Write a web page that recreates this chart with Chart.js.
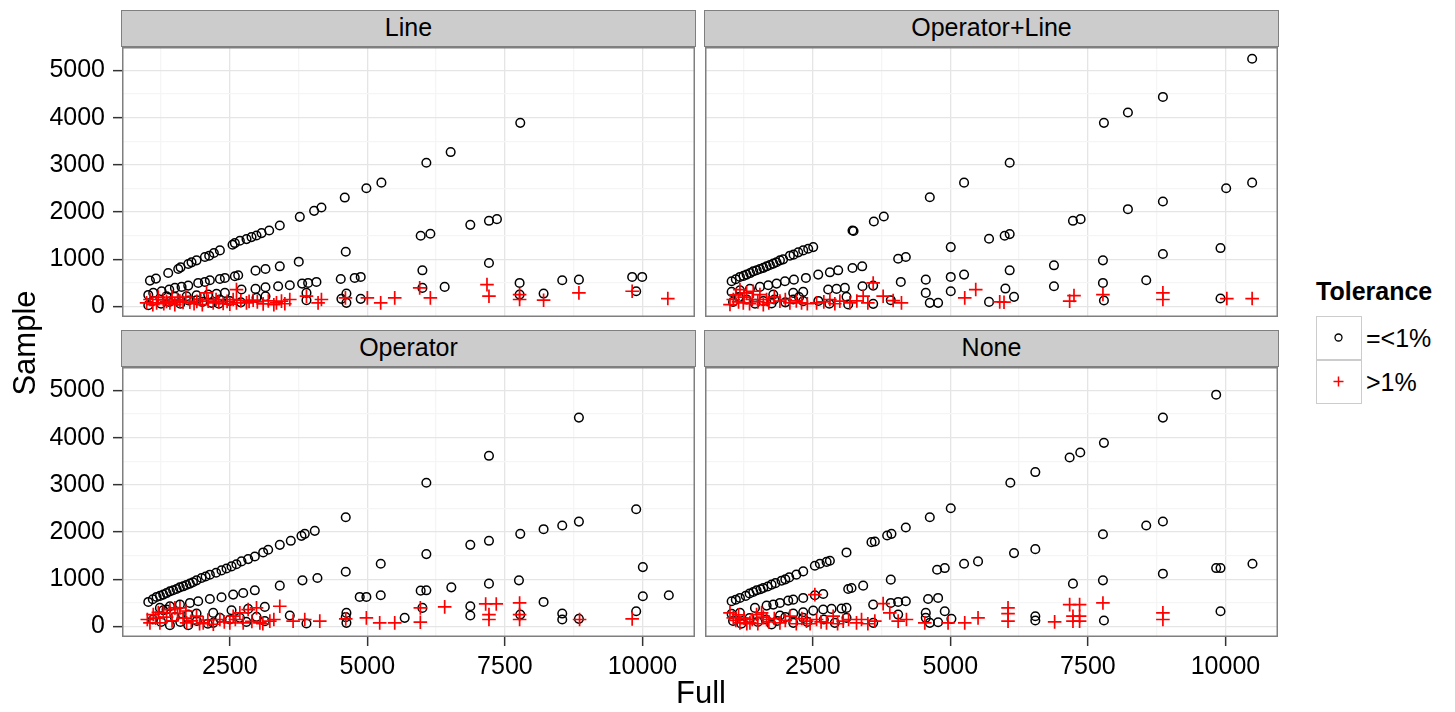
<!DOCTYPE html>
<html>
<head>
<meta charset="utf-8">
<script src="https://cdn.jsdelivr.net/npm/chart.js@4.4.1/dist/chart.umd.min.js"></script>
<style>
  body { margin: 0; background: #fff; font-family: "Liberation Sans", Arial, sans-serif; }
  #wrap { position: relative; width: 1455px; height: 712px; overflow: hidden; }
  .panel { position: absolute; }
  .strip { position: absolute; box-sizing: border-box; background: #cccccc; border: 1.5px solid #7f7f7f;
           font-size: 25px; line-height: 33px; text-align: center; color: #000; }
  .lbl { position: absolute; color: #000; white-space: nowrap; }
  .key { position: absolute; box-sizing: border-box; width: 46px; height: 44px; border: 1.5px solid #cccccc; background: #fff; }
</style>
</head>
<body>
<div id="wrap">
  <div class="strip" style="left:121px;top:10px;width:575px;height:37px">Line</div>
  <div class="strip" style="left:704px;top:10px;width:575px;height:37px">Operator+Line</div>
  <div class="strip" style="left:121px;top:330px;width:575px;height:37px">Operator</div>
  <div class="strip" style="left:704px;top:330px;width:575px;height:37px">None</div>

  <div class="panel" style="left:0;top:47px"><canvas id="pLine" width="695" height="270"></canvas></div>
  <div class="panel" style="left:705px;top:47px"><canvas id="pOpLine" width="573" height="270"></canvas></div>
  <div class="panel" style="left:0;top:367px"><canvas id="pOp" width="695" height="320"></canvas></div>
  <div class="panel" style="left:705px;top:367px"><canvas id="pNone" width="573" height="320"></canvas></div>

  <div class="lbl" style="left:676px;top:675px;font-size:31px">Full</div>
  <div class="lbl" style="left:-30px;top:325px;font-size:31px;transform:rotate(-90deg);width:110px;text-align:center">Sample</div>

  <div class="lbl" style="left:1316px;top:277px;font-size:25px;font-weight:bold">Tolerance</div>
  <div class="key" style="left:1316px;top:316px">
    <svg width="43" height="41"><circle cx="21.5" cy="20.5" r="3.5" fill="none" stroke="#000" stroke-width="1.3"/></svg>
  </div>
  <div class="key" style="left:1316px;top:360px">
    <svg width="43" height="41"><path d="M16.5 20.5 H26.5 M21.5 15.5 V25.5" stroke="#ff0000" stroke-width="1.5"/></svg>
  </div>
  <div class="lbl" style="left:1366px;top:324px;font-size:25px">=&lt;1%</div>
  <div class="lbl" style="left:1366px;top:368px;font-size:25px">&gt;1%</div>
</div>

<script>
'use strict'

//축 범위
const X_MIN = 540, X_MAX = 10955;
const Y_MIN = -220, Y_MAX = 5495;
//눈금 (주 눈금 + 보조 눈금)
const xTicks = [1250, 2500, 3750, 5000, 6250, 7500, 8750, 10000];
const yTicks = [0, 500, 1000, 1500, 2000, 2500, 3000, 3500, 4000, 4500, 5000];
const legendLabels = ['=<1%', '>1%'];

//Line 패널
const lineOk = [
  [1048,550],[1157,593],[1380,712],[1562,796],[1605,831],[1744,902],[1804,937],[1895,979],[2047,1050],[2125,1078],
  [2210,1134],[2319,1190],[2549,1310],[2591,1345],[2682,1394],[2803,1429],[2894,1471],[2985,1506],[3077,1556],[3215,1612],
  [3408,1717],[3772,1900],[4032,2027],[4165,2097],[4589,2308],[4982,2505],[5255,2624],[6072,3046],[6514,3271],[7779,3890],
  [1018,247],[1108,290],[1260,325],[1399,361],[1502,396],[1623,417],[1744,445],[1925,501],[2047,522],[2137,557],
  [2319,585],[2410,607],[2591,642],[2652,663],[2967,761],[3148,796],[3408,853],[3753,951],[4607,1162],[5969,1499],
  [6145,1542],[6871,1731],[7210,1816],[7355,1851],
  [1350,220],[1502,206],[1714,220],[1895,241],[2107,255],[2258,269],[2410,290],[2712,361],[2967,375],[3148,410],
  [3378,431],[3590,452],[3814,487],[3923,501],[4074,522],[4516,585],[4770,607],[4879,628],[6000,768],[7210,923],
  [8542,557],[8845,571],[9813,628],[9995,628],
  [1018,30],[1895,136],[2319,150],[2168,79],[3148,220],[2985,185],[3893,136],[3893,290],[4528,164],[4619,276],
  [4619,79],[4879,164],[6000,396],[6405,417],[7767,501],[7767,255],[8203,276],[9886,325],
  [1100,120],[1250,60],[1400,100],[1600,60],[1750,130],[2000,100],[2300,60],[2500,120],[2700,90]
];
const lineBad = [
  [987,79],[1169,79],[1290,150],[1411,79],[1593,115],[1774,93],[1956,150],[2077,290],[2107,115],[2198,79],
  [2379,65],[2561,150],[2621,79],[2621,361],[2803,79],[2924,136],[3106,58],[3348,79],[3439,115],[3590,150],
  [3893,220],[4104,79],[4165,150],[4601,185],[5000,185],[5242,79],[5497,185],[5951,396],[6145,185],[7174,466],
  [7210,220],[7767,150],[7767,255],[8203,136],[8845,290],[9813,325],[10461,171],
  [1050,150],[1100,40],[1200,200],[1300,60],[1350,110],[1450,200],[1500,40],[1550,150],[1650,90],[1700,200],
  [1850,60],[1900,110],[2000,40],[2250,150],[2300,100],[2450,110],[2500,50],[2700,130],[2850,110],[3000,100],
  [3200,120],[3300,40],[3500,60]
];

//Operator+Line 패널
const opLineOk = [
  [1024,536],[1175,628],[1296,677],[1417,747],[1538,796],[1660,853],[1781,909],[1902,979],[2083,1078],[2235,1148],
  [2325,1190],[2416,1225],[2507,1260],[3221,1612],[3240,1600],[3609,1802],[3790,1907],[4626,2315],[5249,2624],[6078,3046],
  [7791,3890],[8227,4108],[8863,4438],[10485,5246],
  [1100,580],[1240,650],[1360,710],[1480,770],[1600,820],[1720,880],[1840,940],[1960,1000],[2150,1100],
  [1024,311],[1175,346],[1357,375],[1538,417],[1690,452],[1841,487],[1993,536],[2156,571],[2374,607],[2598,677],
  [2810,726],[2961,768],[3221,817],[3397,853],[4051,1014],[4190,1049],[5007,1260],[5703,1436],[5987,1499],[6078,1535],
  [7228,1816],[7367,1851],[8227,2062],[8863,2224],[10013,2505],[10485,2624],
  [1781,255],[2144,290],[2325,311],[2779,361],[2931,375],[3082,396],[3403,431],[3597,445],[4099,522],[4553,571],
  [5007,628],[5249,677],[6078,768],[6883,874],[7773,979],[8863,1113],[9910,1239],
  [1750,65],[2144,150],[2325,115],[3112,206],[3143,44],[3597,58],[3917,136],[4553,290],[4626,79],[4777,79],
  [5007,325],[5703,100],[6000,382],[6157,206],[6883,431],[7773,501],[7791,129],[8560,557],[9910,171],
  [1050,100],[1150,200],[1300,150],[1450,60],[1600,120],[1800,150],[2000,90],[2250,200],[2600,120],[2800,60]
];
const opLineBad = [
  [994,44],[1054,150],[1175,361],[1236,79],[1296,290],[1417,325],[1538,255],[1660,150],[1902,115],[2083,79],
  [2295,79],[2568,79],[2810,150],[2991,115],[3173,79],[3415,220],[3597,501],[3778,220],[3960,128],[4111,79],
  [5261,185],[5461,361],[5897,100],[5975,93],[7168,115],[7247,234],[7773,255],[8863,290],[8863,150],[10025,171],
  [10485,171],
  [1100,250],[1150,100],[1250,200],[1350,60],[1400,150],[1500,100],[1600,40],[1700,80],[1800,200],[2000,150],
  [2200,120],[2400,60],[2700,100],[2900,60],[3300,120],[3500,80]
];

//Operator 패널
const opOk = [
  [1018,522],[1169,628],[1290,677],[1411,747],[1532,796],[1653,853],[1774,909],[1895,979],[1986,1028],[2137,1099],
  [2349,1190],[2531,1274],[2712,1380],[2833,1429],[2954,1485],[3106,1570],[3197,1626],[3408,1731],[3608,1816],[3802,1921],
  [3862,1963],[4044,2027],[4607,2315],[6072,3046],[7210,3615],[8845,4424],
  [1100,580],[1230,650],[1350,710],[1470,770],[1590,830],[1710,880],[1830,940],[2060,1060],[2250,1140],[2440,1230],[2620,1320],
  [1229,396],[1411,431],[1593,466],[1774,501],[1925,536],[2137,585],[2349,621],[2561,677],[2743,712],[2954,768],
  [3408,867],[3820,979],[4092,1028],[4607,1162],[5243,1331],[6072,1535],[6871,1731],[7210,1816],[7779,1963],[8203,2062],
  [8542,2139],[8845,2223],[9886,2484],
  [1290,346],[1895,276],[2198,290],[2531,346],[2833,375],[3136,417],[4861,628],[4982,628],[5243,663],[5969,761],
  [6072,768],[6526,831],[7210,909],[7755,979],[10007,1260],[10007,642],[10479,663],[8203,522],
  [1350,361],[1411,30],[1744,30],[1744,255],[2198,79],[2319,185],[2682,185],[2985,206],[3136,115],[3590,234],
  [3893,65],[4619,290],[4619,79],[4607,200],[5678,185],[6000,396],[6871,431],[6871,234],[7779,255],[8542,276],
  [8542,150],[8845,164],[9886,325],
  [1100,150],[1250,100],[1500,200],[1600,100],[1900,120],[2100,60],[2500,150],[2800,100]
];
const opBad = [
  [1048,79],[1108,255],[1229,79],[1290,290],[1411,361],[1502,396],[1593,396],[1714,79],[1895,220],[2016,79],
  [2319,150],[2500,79],[2561,220],[2682,290],[2743,79],[2833,361],[2985,396],[3046,79],[3227,115],[3408,431],
  [3650,115],[3862,150],[4135,115],[4607,164],[4982,185],[5224,79],[5497,79],[5963,396],[5963,93],[6405,417],
  [7150,480],[7343,480],[7210,255],[7210,150],[7767,501],[7767,255],[7767,150],[8857,150],[9813,164],
  [1000,150],[1150,180],[1200,300],[1350,200],[1450,120],[1550,280],[1650,180],[1700,330],[1800,120],[1950,60],
  [2100,140],[2200,50],[2400,100],[2600,150],[2900,110],[3100,60],[3300,150]
];

//None 패널
const noneOk = [
  [1024,536],[1175,607],[1417,733],[1478,768],[1599,817],[1750,888],[1932,972],[2071,1042],[2325,1169],[2537,1288],
  [2628,1331],[2810,1394],[3112,1570],[3566,1788],[3627,1802],[3851,1928],[3929,1963],[4190,2097],[4626,2315],[5007,2505],
  [6090,3046],[6544,3271],[7168,3580],[7361,3686],[7791,3890],[8863,4424],[9831,4909],
  [1100,570],[1280,650],[1350,700],[1550,790],[1680,850],[1820,920],[2000,1000],[2200,1100],[2750,1370],
  [1024,269],[1175,290],[1448,396],[1660,445],[1781,466],[1902,501],[2053,550],[2144,571],[2325,607],[2537,663],
  [2689,691],[3143,796],[3203,817],[3415,867],[3917,994],[4759,1204],[4898,1239],[5249,1331],[5503,1380],[6157,1556],
  [6544,1640],[7773,1956],[8560,2139],[8863,2224],
  [1902,234],[2144,276],[2325,304],[2507,339],[2689,361],[2840,375],[3022,382],[3112,396],[3597,466],[3917,501],
  [4051,522],[4190,536],[4595,585],[4777,607],[7228,909],[7773,979],[8863,1120],[9831,1239],[9910,1239],[10491,1331],
  [1750,44],[2144,79],[2325,185],[3112,185],[3597,79],[4051,255],[4553,290],[4553,185],[4626,79],[4777,93],
  [4898,325],[5019,164],[6544,220],[6544,129],[7791,129],[9910,325],
  [1050,120],[1200,60],[1350,180],[1500,100],[1650,150],[1850,120],[2000,200],[2400,100],[2700,150],[2900,80]
];
const noneBad = [
  [994,290],[1054,185],[1175,79],[1357,79],[1478,255],[1569,290],[1660,150],[1902,79],[2083,220],[2386,115],
  [2537,677],[2568,150],[2749,79],[2870,220],[3052,115],[3294,79],[3385,150],[3627,115],[3778,487],[3899,290],
  [4051,115],[4202,150],[4535,79],[4958,79],[5261,79],[5503,185],[6048,396],[6048,276],[6048,115],[6895,100],
  [7168,466],[7349,466],[7228,220],[7349,220],[7228,115],[7349,115],[7773,501],[8863,290],[8863,150],
  [1100,130],[1150,250],[1250,180],[1300,60],[1400,150],[1500,60],[1600,200],[1700,100],[1800,170],[2000,130],
  [2200,60],[2300,170],[2450,60],[2650,100],[2950,60],[3150,150],[3500,60]
];

//==================================================================================================
Chart.defaults.font.family = '"Liberation Sans", Arial, sans-serif';
Chart.defaults.color = '#000';

//패널 테두리
const panelFrame = {
  id: 'panelFrame',
  afterDraw(chart){
    const a = chart.chartArea;
    const c = chart.ctx;
    c.save();
    c.strokeStyle = '#7f7f7f';
    c.lineWidth = 1.5;
    c.strokeRect(a.left + 0.75, a.top + 0.75, a.right - a.left - 1.5, a.bottom - a.top - 1.5);
    c.restore();
  }
};

function toPoints(arr){
  return arr.map(p => ({ x: p[0], y: p[1] }));
}

//축 크기 고정 (라벨 때문에 생기는 여백 제거)
function fixSize(s, w, h){
  if(w !== null) s.width = w;
  if(h !== null) s.height = h;
  s.paddingLeft = 0;
  s.paddingRight = 0;
  s.paddingTop = 0;
  s.paddingBottom = 0;
}

function makePanel(id, okData, badData, showX, showY){
  new Chart(document.getElementById(id), {
    type: 'scatter',
    data: {
      datasets: [
        {
          label: legendLabels[1],
          data: toPoints(badData),
          pointStyle: 'cross',
          pointRadius: 6.8,
          borderColor: '#ff0000',
          borderWidth: 1.7,
          order: 0
        },
        {
          label: legendLabels[0],
          data: toPoints(okData),
          pointStyle: 'circle',
          pointRadius: 4.3,
          borderColor: '#000',
          backgroundColor: 'rgba(0,0,0,0)',
          borderWidth: 1.5,
          order: 1
        }
      ]
    },
    options: {
      animation: false,
      responsive: false,
      layout: { padding: 0, autoPadding: false },
      plugins: { legend: { display: false }, tooltip: { enabled: false } },
      scales: {
        x: {
          type: 'linear',
          min: X_MIN,
          max: X_MAX,
          afterBuildTicks: (s) => { s.ticks = xTicks.map(v => ({ value: v })); },
          afterFit: (s) => fixSize(s, null, showX ? 50 : 0),
          border: { display: false },
          grid: {
            drawTicks: showX,
            tickLength: 9,
            tickWidth: 1.5,
            tickColor: (ctx) => (ctx.tick && ctx.tick.value % 2500 === 0) ? '#333' : 'rgba(0,0,0,0)',
            color: (ctx) => (ctx.tick && ctx.tick.value % 2500 === 0) ? '#e5e5e5' : '#f5f5f5',
            lineWidth: 1.3
          },
          ticks: {
            display: showX,
            autoSkip: false,
            maxRotation: 0,
            padding: 6,
            font: { size: 25 },
            callback: (v) => v % 2500 === 0 ? String(v) : ''
          }
        },
        y: {
          type: 'linear',
          min: Y_MIN,
          max: Y_MAX,
          afterBuildTicks: (s) => { s.ticks = yTicks.map(v => ({ value: v })); },
          afterFit: (s) => fixSize(s, showY ? 122 : 0, null),
          border: { display: false },
          grid: {
            drawTicks: showY,
            tickLength: 9,
            tickWidth: 1.5,
            tickColor: (ctx) => (ctx.tick && ctx.tick.value % 1000 === 0) ? '#333' : 'rgba(0,0,0,0)',
            color: (ctx) => (ctx.tick && ctx.tick.value % 1000 === 0) ? '#e5e5e5' : '#f5f5f5',
            lineWidth: 1.3
          },
          ticks: {
            display: showY,
            autoSkip: false,
            padding: 8,
            font: { size: 25 },
            callback: (v) => v % 1000 === 0 ? String(v) : ''
          }
        }
      }
    },
    plugins: [panelFrame]
  });
}

makePanel('pLine', lineOk, lineBad, false, true);
makePanel('pOpLine', opLineOk, opLineBad, false, false);
makePanel('pOp', opOk, opBad, true, true);
makePanel('pNone', noneOk, noneBad, true, false);
</script>
</body>
</html>
